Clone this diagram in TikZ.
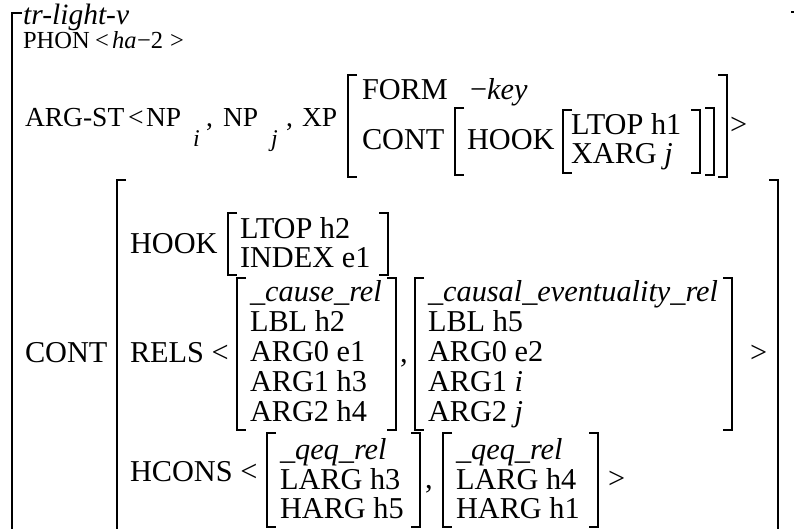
\documentclass[tikz,border=0pt]{standalone}
\usepackage{fontspec}
\setmainfont{Liberation Serif}
\newcommand\Lbr[3]{\draw[br] (#1+9,#2) -- (#1,#2) -- (#1,#3) -- (#1+9,#3);}
\newcommand\Rbr[3]{\draw[br] (#1-9,#2) -- (#1,#2) -- (#1,#3) -- (#1-9,#3);}
\begin{document}
\begin{tikzpicture}[x=1pt,y=-1pt,
  t/.style={anchor=base west, inner sep=0pt, outer sep=0pt, font=\fontsize{30.3}{32}\selectfont},
  tm/.style={anchor=base west, inner sep=0pt, outer sep=0pt, font=\fontsize{27.5}{30}\selectfont},
  ts/.style={anchor=base west, inner sep=0pt, outer sep=0pt, font=\fontsize{24.5}{26}\selectfont},
  sb/.style={anchor=base west, inner sep=0pt, outer sep=0pt, font=\fontsize{24}{26}\selectfont\itshape},
  br/.style={line width=1.2pt, line cap=butt, line join=miter}]
\useasboundingbox (0,0) rectangle (794,529);
% outer brackets
\draw[br] (22,13) -- (12,13) -- (12,545);
\draw[br] (791,12) -- (800,12) -- (800,545);
% top part
\node[anchor=base west, inner sep=0pt, font=\fontsize{29.5}{31}\selectfont\itshape] (type) at (23,25) {tr-light-v};
\node[ts] (phon) at (23,49) {PHON};
\node[ts] (lt0) at (95,49) {<};
\node[ts] (ha) at (112,49) {\textit{ha}};
\node[ts] (mn) at (137,49) {−2};
\node[ts] (gt0) at (170,49) {>};
\node[tm] (argst) at (25,127) {ARG-ST};
\node[tm] (lt1) at (128,127) {<};
\node[tm] (np1) at (146,127) {NP};
\node[sb] (si) at (193,147) {i};
\node[tm] (c1) at (206,127) {,};
\node[tm] (np2) at (223,127) {NP};
\node[sb] (sj) at (271,147) {j};
\node[tm] (c2) at (286,127) {,};
\node[tm] (xp) at (302,127) {XP};
\Lbr{348}{75}{177}
\Rbr{727}{75}{177}
\node[t] (form) at (362,100) {FORM};
\node[t] (key) at (470,100) {−\textit{key}};
\node[t] (cont1) at (362,150) {CONT};
\Lbr{455}{108}{175}
\Rbr{714}{108}{175}
\node[t] (hook1) at (467,150) {HOOK};
\Lbr{563}{110}{173}
\Rbr{700}{110}{173}
\node[t] (ltop1) at (571,135) {LTOP h1};
\node[t] (xarg) at (571,164) {XARG \textit{j}};
\node[t] (gt1) at (730,135) {>};
% CONT part
\Lbr{117}{180}{545}
\Rbr{778}{180}{545}
\node[t] (cont2) at (25,362) {CONT};
\node[t] (hook2) at (130,253) {HOOK};
\Lbr{228}{213}{275}
\Rbr{388}{213}{275}
\node[t] (ltop2) at (240,238) {LTOP h2};
\node[t] (index) at (240,267) {INDEX e1};
\node[t] (rels) at (130,362) {RELS <};
\Lbr{237}{278}{430}
\Rbr{396}{278}{430}
\node[t] (cr) at (250,301) {\textit{\_cause\_rel}};
\node[t] (lbl2) at (250,331) {LBL h2};
\node[t] (a0e1) at (250,361) {ARG0 e1};
\node[t] (a1h3) at (250,391) {ARG1 h3};
\node[t] (a2h4) at (250,421) {ARG2 h4};
\node[t] (c3) at (400,362) {,};
\Lbr{415}{278}{430}
\Rbr{732}{278}{430}
\node[t] (cer) at (428,301) {\textit{\_causal\_eventuality\_rel}};
\node[t] (lbl5) at (428,331) {LBL h5};
\node[t] (a0e2) at (428,361) {ARG0 e2};
\node[t] (a1i) at (428,391) {ARG1 \textit{i}};
\node[t] (a2j) at (428,421) {ARG2 \textit{j}};
\node[t] (gt2) at (750,362) {>};
\node[t] (hcons) at (130,481) {HCONS <};
\Lbr{267}{433}{527}
\Rbr{420}{433}{527}
\node[t] (q1) at (280,459) {\textit{\_qeq\_rel}};
\node[t] (larg3) at (280,489) {LARG h3};
\node[t] (harg5) at (280,518) {HARG h5};
\node[t] (c4) at (425,488) {,};
\Lbr{443}{433}{527}
\Rbr{598}{433}{527}
\node[t] (q2) at (456,459) {\textit{\_qeq\_rel}};
\node[t] (larg4) at (456,489) {LARG h4};
\node[t] (harg1) at (456,518) {HARG h1};
\node[t] (gt3) at (608,488) {>};
\end{tikzpicture}
\end{document}
